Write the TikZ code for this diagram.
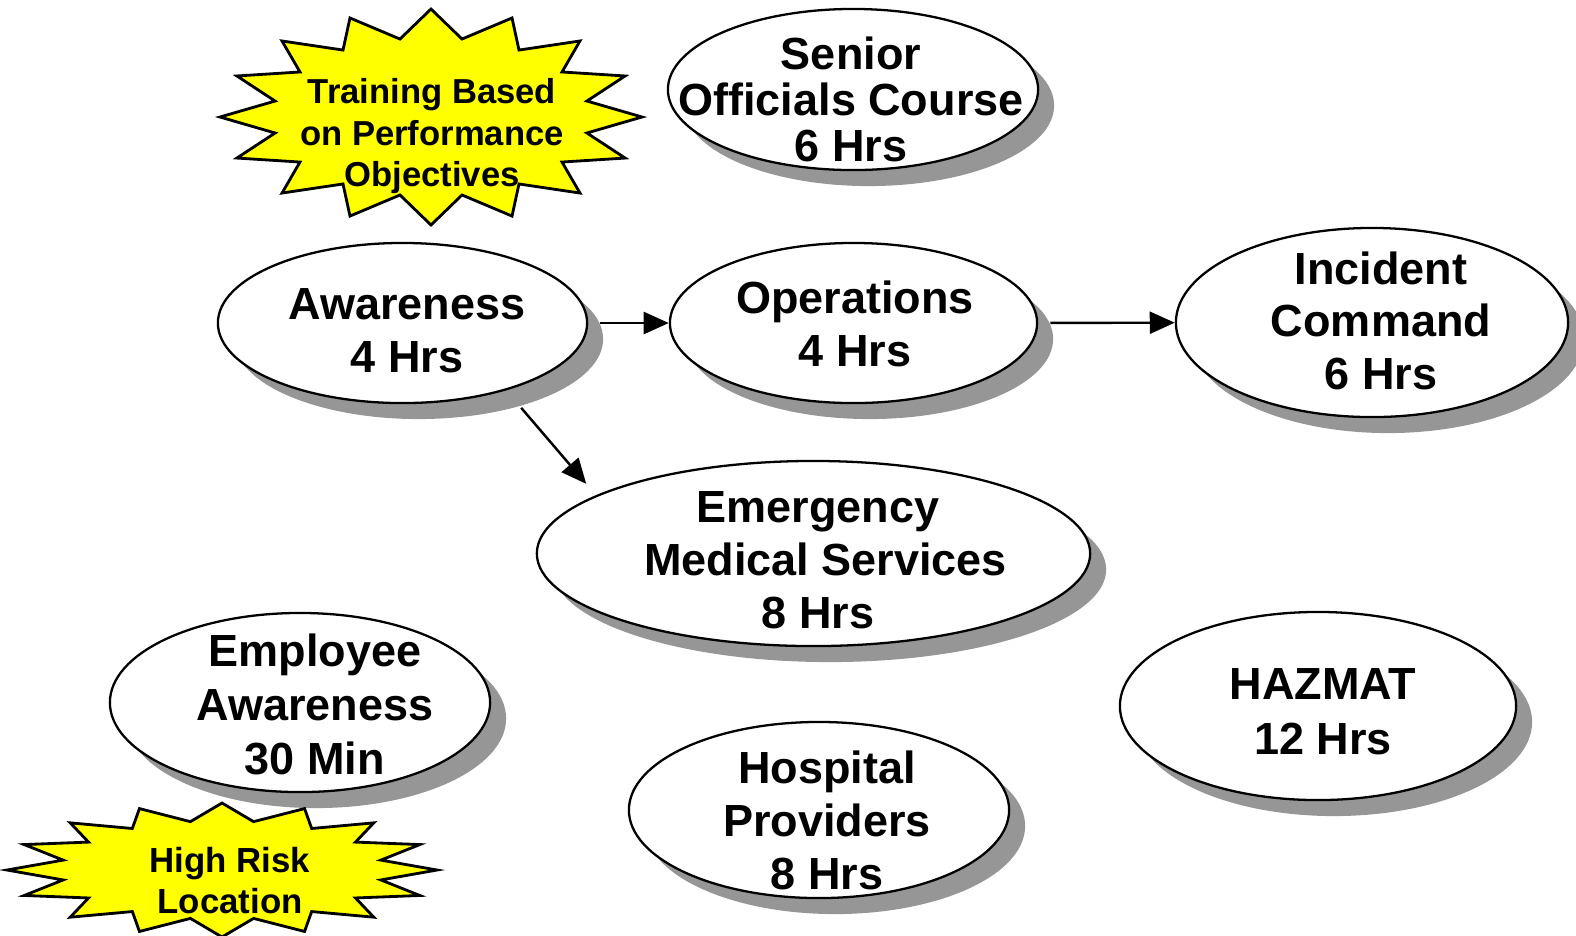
\documentclass[tikz,border=0pt]{standalone}
\usepackage{fontspec}
\setmainfont{Liberation Sans}
\usetikzlibrary{shapes.geometric,shadows,arrows.meta}
\definecolor{shgray}{RGB}{150,150,150}
\definecolor{burstyellow}{RGB}{255,255,0}
\tikzset{
  oval/.style={ellipse, draw=black, line width=0.65pt, fill=white, inner sep=0pt,
    drop shadow={shadow xshift=0.16cm, shadow yshift=-0.16cm, fill=shgray, opacity=1}},
  lbl/.style={anchor=north, inner sep=0pt, align=center,
    font=\bfseries\fontsize{12.8pt}{15.1pt}\selectfont},
  burstlbl/.style={anchor=north, inner sep=0pt, align=center,
    font=\bfseries\fontsize{9.85pt}{11.8pt}\selectfont},
  burstline/.style={draw=black, line width=0.8pt, fill=burstyellow, line join=miter},
  arr/.style={line width=0.7pt, -{Triangle[length=0.25cm,width=0.22cm]}}
}
\begin{document}
\begin{tikzpicture}[x=0.01cm, y=-0.01cm]
\useasboundingbox (0,0) rectangle (1576,935);

% ellipses
\node[oval, minimum width=3.70cm, minimum height=1.61cm] (senior) at (853,89.5) {};
\node[oval, minimum width=3.69cm, minimum height=1.60cm] (aw) at (402.5,323) {};
\node[oval, minimum width=3.67cm, minimum height=1.60cm] (op) at (853.5,323) {};
\node[oval, minimum width=3.92cm, minimum height=1.89cm] (ic) at (1372,322.5) {};
\node[oval, minimum width=5.53cm, minimum height=1.85cm] (ems) at (813.5,553.5) {};
\node[oval, minimum width=3.80cm, minimum height=1.79cm] (emp) at (300,702.5) {};
\node[oval, minimum width=3.80cm, minimum height=1.76cm] (hosp) at (819,810) {};
\node[oval, minimum width=3.96cm, minimum height=1.88cm] (haz) at (1318,706) {};

% ellipse texts
\node[lbl, font=\bfseries\fontsize{12.8pt}{13.1pt}\selectfont] (seniorT) at (851,36) {Senior\\Officials Course\\6 Hrs};
\node[lbl] (awT) at (407,288) {Awareness\\4 Hrs};
\node[lbl] (opT) at (855,280) {Operations\\4 Hrs};
\node[lbl, font=\bfseries\fontsize{12.8pt}{14.9pt}\selectfont] (icT) at (1381,251) {Incident\\Command\\6 Hrs};
\node[lbl] (emsT) at (818,491) {Emergency\\\hspace*{0.15cm}Medical Services\\8 Hrs};
\node[lbl, font=\bfseries\fontsize{12.8pt}{15.4pt}\selectfont] (empT) at (315,633) {Employee\\Awareness\\30 Min};
\node[lbl] (hospT) at (827,750) {Hospital\\Providers\\8 Hrs};
\node[lbl, font=\bfseries\fontsize{12.8pt}{15.65pt}\selectfont] (hazT) at (1323,668) {HAZMAT\\12 Hrs};

% starbursts
\begin{scope}[shift={(431,117)}, xscale=211, yscale=108]
\draw[burstline] (0,1) -- (0.147,0.722) -- (0.384,0.917) -- (0.417,0.62) -- (0.706,0.704) -- (0.621,0.417) -- (0.92,0.38) -- (0.739,0.148) -- (1,0) -- (0.739,-0.148) -- (0.92,-0.38) -- (0.621,-0.417) -- (0.706,-0.704) -- (0.417,-0.62) -- (0.384,-0.917) -- (0.147,-0.722) -- (0,-1) -- (-0.147,-0.722) -- (-0.384,-0.917) -- (-0.417,-0.62) -- (-0.706,-0.704) -- (-0.621,-0.417) -- (-0.92,-0.38) -- (-0.739,-0.148) -- (-1,0) -- (-0.739,0.148) -- (-0.92,0.38) -- (-0.621,0.417) -- (-0.706,0.704) -- (-0.417,0.62) -- (-0.384,0.917) -- (-0.147,0.722) -- cycle;
\end{scope}
\begin{scope}[shift={(222,870)}, xscale=215, yscale=67]
\draw[burstline] (0,1) -- (0.147,0.722) -- (0.384,0.917) -- (0.417,0.62) -- (0.706,0.704) -- (0.621,0.417) -- (0.92,0.38) -- (0.739,0.148) -- (1,0) -- (0.739,-0.148) -- (0.92,-0.38) -- (0.621,-0.417) -- (0.706,-0.704) -- (0.417,-0.62) -- (0.384,-0.917) -- (0.147,-0.722) -- (0,-1) -- (-0.147,-0.722) -- (-0.384,-0.917) -- (-0.417,-0.62) -- (-0.706,-0.704) -- (-0.621,-0.417) -- (-0.92,-0.38) -- (-0.739,-0.148) -- (-1,0) -- (-0.739,0.148) -- (-0.92,0.38) -- (-0.621,0.417) -- (-0.706,0.704) -- (-0.417,0.62) -- (-0.384,0.917) -- (-0.147,0.722) -- cycle;
\end{scope}
\node[burstlbl] (trainT) at (432,78) {Training Based\\on Performance\\Objectives};
\node[burstlbl, font=\bfseries\fontsize{9.9pt}{11.4pt}\selectfont] (riskT) at (230,847) {High Risk\\Location};

% connectors
\draw[arr, shorten <=0.12cm] (aw) -- (op);
\draw[arr, shorten <=0.12cm] (op) -- (ic);
\draw[arr, shorten <=0.23cm, shorten >=0.15cm] (aw.-33) -- (ems.165.5);
\end{tikzpicture}
\end{document}
